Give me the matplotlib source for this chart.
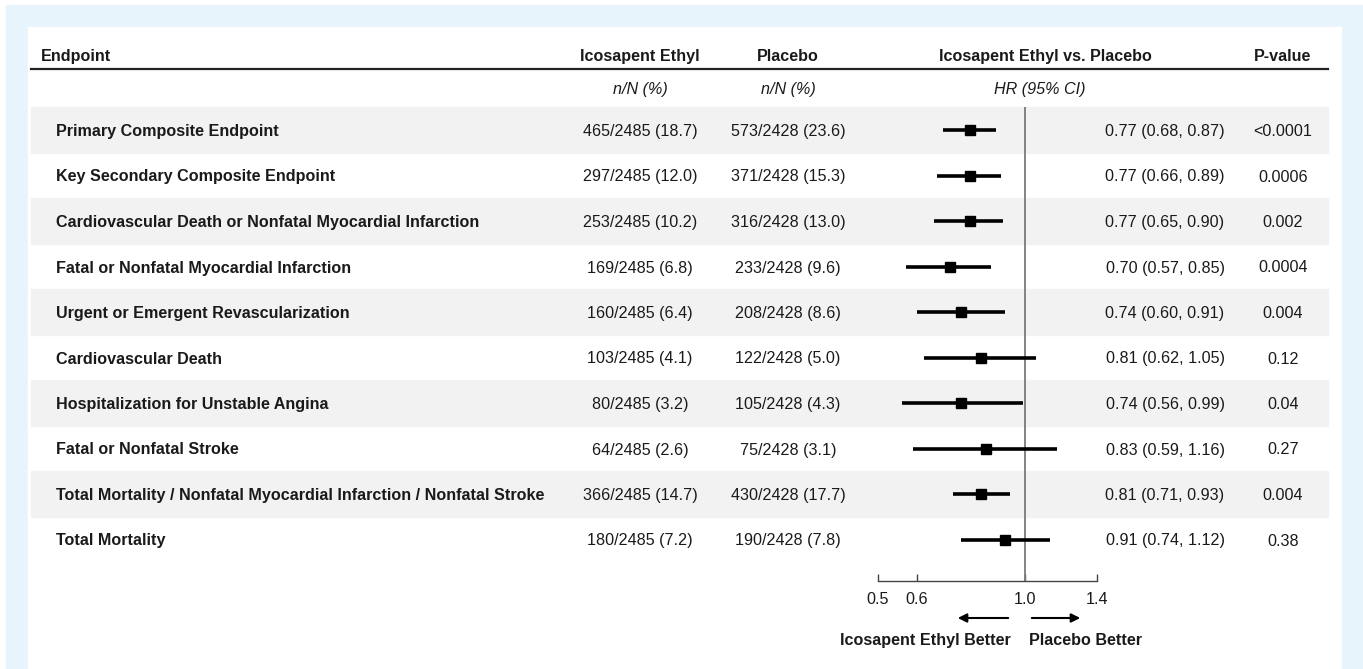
import numpy as np
import matplotlib.pyplot as plt
from matplotlib.patches import Rectangle
from matplotlib.ticker import FixedLocator, FixedFormatter, NullLocator

plt.rcParams['font.family'] = ['Liberation Sans', 'DejaVu Sans']

# table data
endpoints = [
    "Primary Composite Endpoint",
    "Key Secondary Composite Endpoint",
    "Cardiovascular Death or Nonfatal Myocardial Infarction",
    "Fatal or Nonfatal Myocardial Infarction",
    "Urgent or Emergent Revascularization",
    "Cardiovascular Death",
    "Hospitalization for Unstable Angina",
    "Fatal or Nonfatal Stroke",
    "Total Mortality / Nonfatal Myocardial Infarction / Nonfatal Stroke",
    "Total Mortality",
]
ice_n = [465, 297, 253, 169, 160, 103, 80, 64, 366, 180]
ice_N = 2485
ice_pct = [18.7, 12.0, 10.2, 6.8, 6.4, 4.1, 3.2, 2.6, 14.7, 7.2]
pla_n = [573, 371, 316, 233, 208, 122, 105, 75, 430, 190]
pla_N = 2428
pla_pct = [23.6, 15.3, 13.0, 9.6, 8.6, 5.0, 4.3, 3.1, 17.7, 7.8]
hr = [0.77, 0.77, 0.77, 0.70, 0.74, 0.81, 0.74, 0.83, 0.81, 0.91]
ci_lo = [0.68, 0.66, 0.65, 0.57, 0.60, 0.62, 0.56, 0.59, 0.71, 0.74]
ci_hi = [0.87, 0.89, 0.90, 0.85, 0.91, 1.05, 0.99, 1.16, 0.93, 1.12]
pvals = ["<0.0001", "0.0006", "0.002", "0.0004", "0.004", "0.12", "0.04", "0.27", "0.004", "0.38"]
ticks = [0.5, 0.6, 1.0, 1.4]

W, H = 1363, 669
fig = plt.figure(figsize=(W / 100, H / 100), dpi=100)
fig.patch.set_facecolor("white")

# base axes in pixel coordinates
ax = fig.add_axes([0, 0, 1, 1])
ax.set_xlim(0, W)
ax.set_ylim(H, 0)
ax.axis("off")

ax.add_patch(Rectangle((6, 5), W - 6, H - 5, color="#e7f4fb", zorder=0))
ax.add_patch(Rectangle((28, 27), 1341 - 28, H - 27, color="white", zorder=0))

txt = "#1a1a1a"
fs = 11.6
va = "center_baseline"
x_left, x_right = 31, 1328
row0, step = 130, 45.5
ys = row0 + step * np.arange(len(endpoints))

# header
ax.plot([x_left, x_right], [69, 69], color="#222222", lw=1.6, zorder=2)
ax.text(41, 55, "Endpoint", ha="left", va=va, fontsize=fs, fontweight="bold", color=txt)
ax.text(640, 55, "Icosapent Ethyl", ha="center", va=va, fontsize=fs, fontweight="bold", color=txt)
ax.text(788, 55, "Placebo", ha="center", va=va, fontsize=fs, fontweight="bold", color=txt)
ax.text(1045, 55, "Icosapent Ethyl vs. Placebo", ha="center", va=va, fontsize=fs, fontweight="bold", color=txt)
ax.text(1283, 55, "P-value", ha="center", va=va, fontsize=fs, fontweight="bold", color=txt)
ax.text(640, 88, "n/N (%)", ha="center", va=va, fontsize=fs, style="italic", color=txt)
ax.text(788, 88, "n/N (%)", ha="center", va=va, fontsize=fs, style="italic", color=txt)
ax.text(1040, 88, "HR (95% CI)", ha="center", va=va, fontsize=fs, style="italic", color=txt)

for i, y in enumerate(ys):
    if i % 2 == 0:
        ax.add_patch(Rectangle((x_left, y - step / 2), x_right - x_left, step,
                               color="#f2f2f2", zorder=1))
    ax.text(56, y, endpoints[i], ha="left", va=va, fontsize=fs, fontweight="bold", color=txt)
    ax.text(640, y, f"{ice_n[i]}/{ice_N} ({ice_pct[i]:.1f})", ha="center", va=va, fontsize=fs, color=txt)
    ax.text(788, y, f"{pla_n[i]}/{pla_N} ({pla_pct[i]:.1f})", ha="center", va=va, fontsize=fs, color=txt)
    ax.text(1165, y, f"{hr[i]:.2f} ({ci_lo[i]:.2f}, {ci_hi[i]:.2f})", ha="center", va=va, fontsize=fs, color=txt)
    ax.text(1283, y, pvals[i], ha="center", va=va, fontsize=fs, color=txt)

# forest axes (log scale), x spans 0.5 .. 1.4
fx0, fx1 = 878, 1097
fax = fig.add_axes([fx0 / W, 0, (fx1 - fx0) / W, 1])
fax.patch.set_alpha(0)
fax.set_xscale("log")
fax.set_xlim(0.5, 1.4)
fax.set_ylim(H, 0)
axis_y = 581
fax.vlines(1.0, row0 - step / 2, axis_y, color="#7a7a7a", lw=1.3, zorder=2)
fax.hlines(ys, ci_lo, ci_hi, color="black", lw=2.6, zorder=3)
fax.plot(hr, ys, "s", color="black", ms=7.5, zorder=4)

for s in ["top", "left", "right"]:
    fax.spines[s].set_visible(False)
fax.spines["bottom"].set_position(("data", axis_y))
fax.spines["bottom"].set_bounds(0.5, 1.4)
fax.spines["bottom"].set_color("#444444")
fax.spines["bottom"].set_linewidth(1.0)
fax.xaxis.set_major_locator(FixedLocator(ticks))
fax.xaxis.set_major_formatter(FixedFormatter([f"{t:.1f}" for t in ticks]))
fax.xaxis.set_minor_locator(NullLocator())
fax.tick_params(axis="x", direction="in", length=5, width=1.0, color="#444444",
                labelsize=fs, labelcolor=txt, pad=8)
fax.set_yticks([])

# direction arrows
ax.annotate("", xy=(955, 618), xytext=(1011, 618),
            arrowprops=dict(arrowstyle="-|>", color="black", lw=1.5, mutation_scale=13))
ax.annotate("", xy=(1083, 618), xytext=(1029, 618),
            arrowprops=dict(arrowstyle="-|>", color="black", lw=1.5, mutation_scale=13))
ax.text(1011, 639, "Icosapent Ethyl Better", ha="right", va=va, fontsize=fs, fontweight="bold", color=txt)
ax.text(1029, 639, "Placebo Better", ha="left", va=va, fontsize=fs, fontweight="bold", color=txt)

fig.savefig("out.png", dpi=100)
